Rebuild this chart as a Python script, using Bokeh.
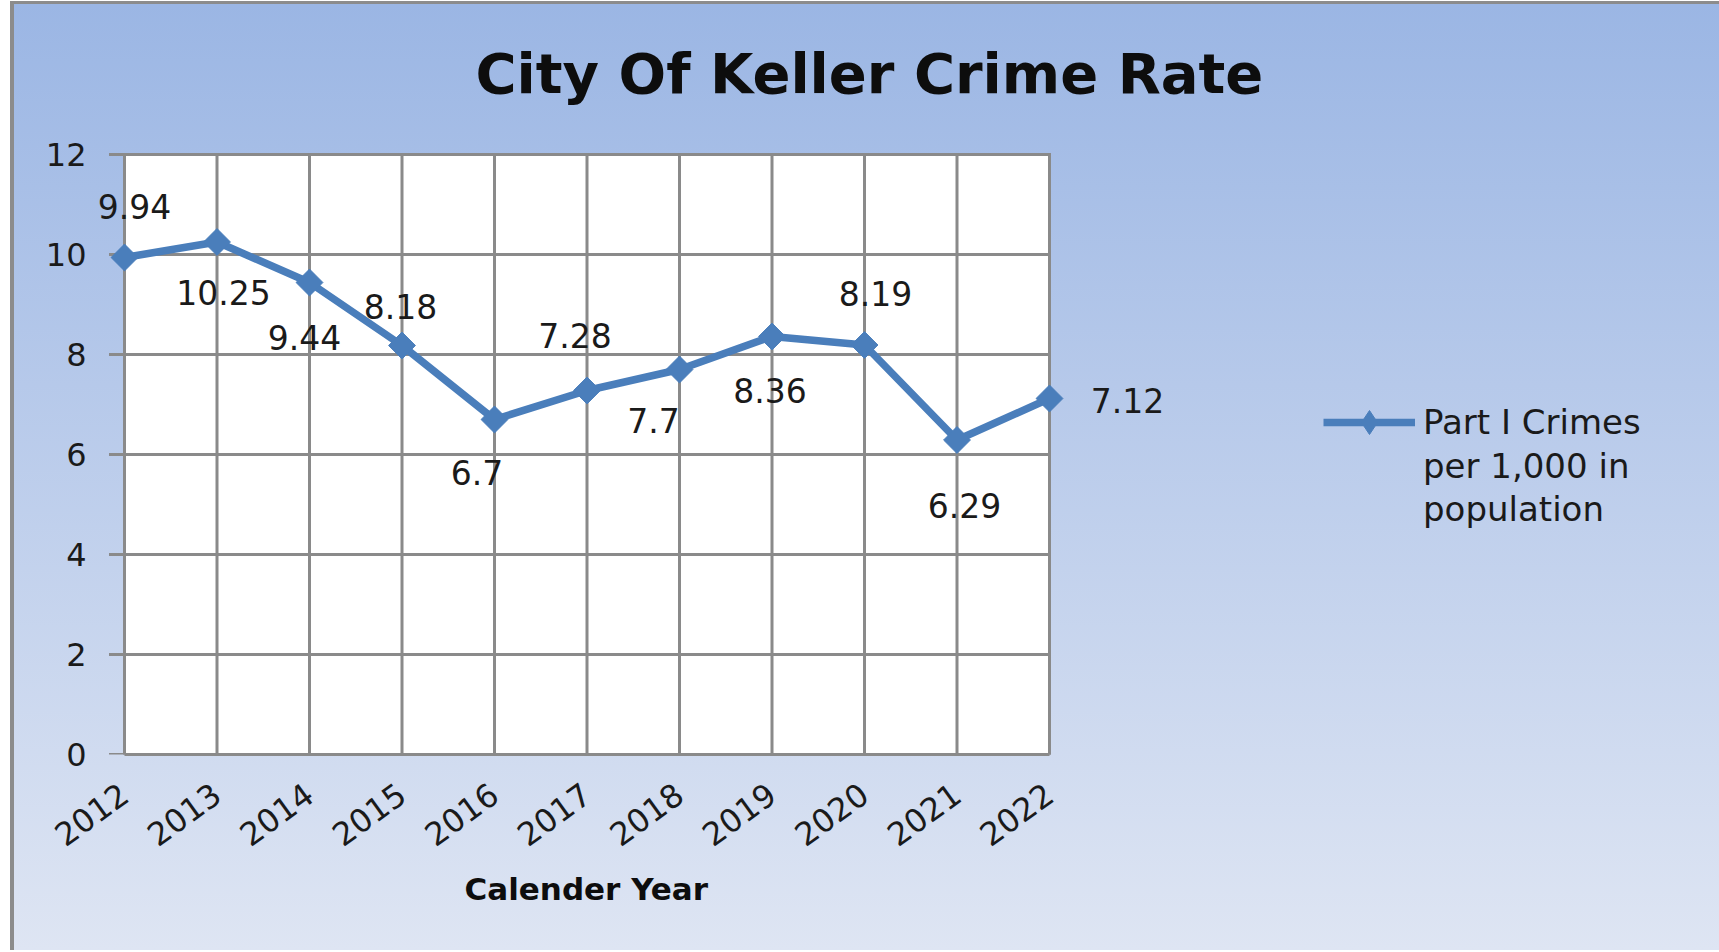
import math
from bokeh.plotting import figure
from bokeh.models import (Range1d, FixedTicker, ColumnDataSource, LabelSet,
                          Legend, LegendItem, BoxAnnotation, Title)
from bokeh.core.properties import value
from bokeh.embed import file_html
from bokeh.resources import INLINE

# ---- data ----
years = [2012, 2013, 2014, 2015, 2016, 2017, 2018, 2019, 2020, 2021, 2022]
rates = [9.94, 10.25, 9.44, 8.18, 6.7, 7.28, 7.7, 8.36, 8.19, 6.29, 7.12]
rate_labels = ["9.94", "10.25", "9.44", "8.18", "6.7", "7.28", "7.7", "8.36", "8.19", "6.29", "7.12"]
y_ticks = [0, 2, 4, 6, 8, 10, 12]
title_text = "City Of Keller Crime Rate"
x_title = "Calender Year"
legend_lines = ["Part I Crimes", "per 1,000 in", "population"]

# ---- label placement (screen pixel offsets, style only) ----
label_dx = [10, 6.5, -5, -1.5, -17.5, -12, -26, -2, 11, 7.5, 78]
label_dy = [51, -50, -54.5, 39, -53, 55, -51, -54, 51.5, -65, -2]

FONT = "DejaVu Sans"
GRID = "#8a8a8a"
BLUE = "#4a7ebb"
TXT = "#1a1a1a"

# ---- layout (pixels) ----
PX_PER_YEAR = 92.5
PX_PER_UNIT = 50.0
PAD_LEFT = 30       # frame starts this far left of the first category
TICK_LEN = 14       # y tick marks drawn left of the plot area
FRAME_W = 1606
FRAME_H = 615
x_start = years[0] - PAD_LEFT / PX_PER_YEAR
x_end = x_start + FRAME_W / PX_PER_YEAR
y_start = 0
y_end = FRAME_H / PX_PER_UNIT

p = figure(frame_width=FRAME_W, frame_height=FRAME_H,
           min_border_left=80, min_border_right=19,
           min_border_top=135, min_border_bottom=196,
           x_range=Range1d(x_start, x_end), y_range=Range1d(y_start, y_end),
           output_backend="svg", toolbar_location=None)

p.styles = {
    "background": "linear-gradient(to bottom, #9bb6e4 0%, #dee5f3 100%)",
    "border-left": "4px solid #8c8c8c",
    "border-top": "3px solid #8c8c8c",
    "margin-left": "10px",
    "margin-top": "1px",
}
p.border_fill_alpha = 0
p.background_fill_alpha = 0
p.outline_line_color = None
p.xgrid.visible = False
p.ygrid.visible = False

# white plot area
p.add_layout(BoxAnnotation(left=years[0], right=years[-1], bottom=y_ticks[0], top=y_ticks[-1],
                           fill_color="white", fill_alpha=1, line_color=None, level="image"))

# grid lines limited to the plot area (horizontal ones extend left as tick marks)
n, m = len(years), len(y_ticks)
vgrid = ColumnDataSource(dict(x0=years, x1=years, y0=[y_ticks[0]] * n, y1=[y_ticks[-1]] * n))
hgrid = ColumnDataSource(dict(x0=[years[0] - TICK_LEN / PX_PER_YEAR] * m, x1=[years[-1]] * m,
                              y0=y_ticks, y1=y_ticks))
for s in (vgrid, hgrid):
    p.segment("x0", "y0", "x1", "y1", source=s, line_color=GRID, line_width=3,
              line_cap="square", level="underlay")

# title
p.title.text = title_text
p.title.text_font = FONT
p.title.text_font_size = "56px"
p.title.text_font_style = "bold"
p.title.text_color = "#0d0d0d"
p.title.align = "left"
p.title.offset = 381
p.title.standoff = 68

# axes
xa = p.xaxis[0]
xa.ticker = FixedTicker(ticks=years)
xa.bounds = (years[0], years[-1])
xa.major_label_overrides = {y: str(y) for y in years}
xa.major_label_orientation = math.radians(36)
xa.major_label_text_font = FONT
xa.major_label_text_font_size = "32px"
xa.major_label_text_color = TXT
xa.major_label_standoff = 36
xa.major_tick_out = 0
xa.major_tick_in = 0
xa.minor_tick_out = 0
xa.minor_tick_in = 0
xa.axis_line_color = GRID
xa.axis_line_width = 3

p.add_layout(Title(text=x_title, align="left", offset=370, standoff=18,
                   text_font=FONT, text_font_size="31px", text_font_style="bold",
                   text_color="#0d0d0d"), "below")

ya = p.yaxis[0]
ya.ticker = FixedTicker(ticks=y_ticks)
ya.major_label_text_font = FONT
ya.major_label_text_font_size = "32px"
ya.major_label_text_color = TXT
ya.major_tick_out = 0
ya.major_tick_in = 0
ya.minor_tick_out = 0
ya.minor_tick_in = 0
ya.major_label_standoff = 8
ya.axis_line_color = None

src = ColumnDataSource(dict(x=years, y=rates, lab=rate_labels, dx=label_dx, dy=label_dy))

ln = p.line("x", "y", source=src, line_color=BLUE, line_width=7.5, line_join="round")
# diamond glyph (hidden under the rotated squares) used for the legend swatch
leg_marker = p.scatter("x", "y", source=src, marker="diamond", size=24,
                       fill_color=BLUE, line_color=BLUE)
mk = p.scatter("x", "y", source=src, marker="square", angle=math.pi / 4, size=19,
               fill_color=BLUE, line_color=BLUE, line_width=1)

labels = LabelSet(x="x", y="y", text="lab", source=src, x_offset="dx", y_offset="dy",
                  text_align="center", text_baseline="middle",
                  text_font=value(FONT), text_font_size=value("33px"), text_color=TXT)
p.add_layout(labels)

# legend: swatch + first line, then the wrapped remainder of the label
empty = ColumnDataSource(dict(x=[], y=[]))
blank = p.line("x", "y", source=empty, line_alpha=0)

legend_a = Legend(items=[LegendItem(label=legend_lines[0], renderers=[ln, leg_marker])],
                  location=(1229, 302), padding=0, margin=0, spacing=0,
                  border_line_alpha=0, background_fill_alpha=0,
                  glyph_width=92, glyph_height=60, label_standoff=8, label_height=20,
                  label_text_font=FONT, label_text_font_size="34px",
                  label_text_color=TXT)
legend_b = Legend(items=[LegendItem(label=t, renderers=[blank]) for t in legend_lines[1:]],
                  location=(1329, 224), padding=0, margin=0, spacing=0,
                  border_line_alpha=0, background_fill_alpha=0,
                  glyph_width=0, glyph_height=43, label_standoff=0, label_height=20,
                  label_text_font=FONT, label_text_font_size="34px",
                  label_text_color=TXT)
p.add_layout(legend_a)
p.add_layout(legend_b)

open("out.html", "w").write(file_html(p, INLINE))
